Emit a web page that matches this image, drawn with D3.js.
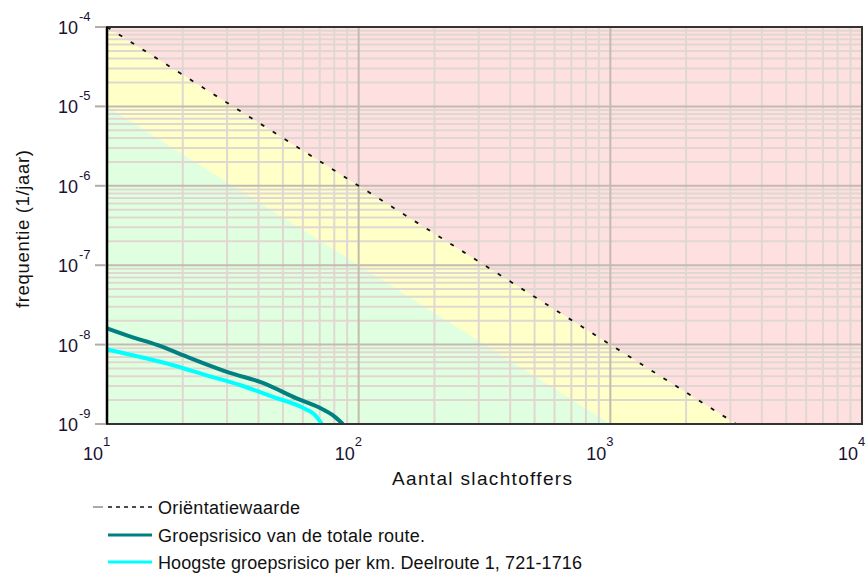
<!DOCTYPE html>
<html>
<head>
<meta charset="utf-8">
<script src="https://cdn.jsdelivr.net/npm/d3@7"></script>
<style>
  body { margin: 0; background: #fff; }
  svg { display: block; font-family: "Liberation Sans", Arial, sans-serif; }
</style>
</head>
<body>
<svg id="chart" width="866" height="574"></svg>
<script>
// Axis decades and their exponent labels
const xDecades = [10, 100, 1000, 10000];
const xExponents = ["1", "2", "3", "4"];
const yDecades = [1e-9, 1e-8, 1e-7, 1e-6, 1e-5, 1e-4];
const yExponents = ["-9", "-8", "-7", "-6", "-5", "-4"];

// Oriëntatiewaarde (upper norm line) and the lower zone boundary
const orientN = [10, 100, 1000, 3162];
const orientF = [1e-4, 1e-6, 1e-8, 1e-9];
const lowerN = [10, 100, 1000];
const lowerF = [1e-5, 1e-7, 1e-9];

// Groepsrisico van de totale route
const totalN = [10, 12.5, 15.8, 21.3, 30.8, 41.6, 56.7, 70, 80, 86.5];
const totalF = [1.6e-8, 1.25e-8, 9.9e-9, 6.8e-9, 4.4e-9, 3.3e-9, 2.1e-9, 1.6e-9, 1.25e-9, 1.0e-9];

// Hoogste groepsrisico per km
const peakN = [10, 13.5, 18.3, 24.9, 33.7, 45.6, 60, 67, 71.3];
const peakF = [8.7e-9, 7.0e-9, 5.5e-9, 4.1e-9, 3.1e-9, 2.2e-9, 1.6e-9, 1.3e-9, 1.0e-9];

const legendLabels = [
  "Oriëntatiewaarde",
  "Groepsrisico van de totale route.",
  "Hoogste groepsrisico per km. Deelroute 1, 721-1716"
];
const legendWidths = [142, 267, 424];
const xTitle = "Aantal slachtoffers";
const yTitle = "frequentie (1/jaar)";

const plot = { left: 107, right: 862, top: 27, bottom: 424 };

const svg = d3.select("#chart");
const x = d3.scaleLog().domain([10, 10000]).range([plot.left, plot.right]);
const y = d3.scaleLog().domain([1e-9, 1e-4]).range([plot.bottom, plot.top]);

const [xMin, xMax] = x.domain();
const [yMin, yMax] = y.domain();

svg.append("defs").append("clipPath").attr("id", "plotClip")
  .append("rect")
  .attr("x", plot.left).attr("y", plot.top)
  .attr("width", plot.right - plot.left).attr("height", plot.bottom - plot.top);

const g = svg.append("g").attr("clip-path", "url(#plotClip)");
const poly = d3.line().x(d => x(d[0])).y(d => y(d[1]));

// Green zone: whole plot area
g.append("rect")
  .attr("x", plot.left).attr("y", plot.top)
  .attr("width", plot.right - plot.left).attr("height", plot.bottom - plot.top)
  .attr("fill", "#e0ffe0");

// Yellow zone: above the lower boundary
const yellowPts = lowerN.map((n, i) => [n, lowerF[i]])
  .concat([[xMax, yMin], [xMax, yMax], [xMin, yMax]]);
g.append("path").attr("d", poly(yellowPts) + "Z").attr("fill", "#ffffc8");

// Red zone: above the oriëntatiewaarde
const redPts = orientN.map((n, i) => [n, orientF[i]])
  .concat([[xMax, yMin], [xMax, yMax]]);
g.append("path").attr("d", poly(redPts) + "Z").attr("fill", "#ffe0e0");

// Grid lines
const isDecade = v => Math.abs(Math.log10(v) - Math.round(Math.log10(v))) < 1e-9;
const xt = x.ticks();
const yt = y.ticks();
const minorCol = "#e0d8d0", majorCol = "#c4bab0";

g.selectAll(".xminor").data(xt.filter(v => !isDecade(v))).join("line")
  .attr("x1", d => x(d)).attr("x2", d => x(d))
  .attr("y1", plot.top).attr("y2", plot.bottom)
  .attr("stroke", minorCol).attr("stroke-width", 2);
g.selectAll(".yminor").data(yt.filter(v => !isDecade(v))).join("line")
  .attr("y1", d => y(d)).attr("y2", d => y(d))
  .attr("x1", plot.left).attr("x2", plot.right)
  .attr("stroke", minorCol).attr("stroke-width", 2);
g.selectAll(".xmajor").data(xt.filter(isDecade)).join("line")
  .attr("x1", d => x(d)).attr("x2", d => x(d))
  .attr("y1", plot.top).attr("y2", plot.bottom)
  .attr("stroke", majorCol).attr("stroke-width", 2);
g.selectAll(".ymajor").data(yt.filter(isDecade)).join("line")
  .attr("y1", d => y(d)).attr("y2", d => y(d))
  .attr("x1", plot.left).attr("x2", plot.right)
  .attr("stroke", majorCol).attr("stroke-width", 2);

// Oriëntatiewaarde dashed line
g.append("path")
  .attr("d", poly(orientN.map((n, i) => [n, orientF[i]])))
  .attr("fill", "none").attr("stroke", "#111").attr("stroke-width", 1.8)
  .attr("stroke-dasharray", "4,10");

// FN curves
const curve = d3.line().x(d => x(d[0])).y(d => y(d[1])).curve(d3.curveMonotoneX);
g.append("path")
  .attr("d", curve(totalN.map((n, i) => [n, totalF[i]])))
  .attr("fill", "none").attr("stroke", "#008080").attr("stroke-width", 4);
g.append("path")
  .attr("d", curve(peakN.map((n, i) => [n, peakF[i]])))
  .attr("fill", "none").attr("stroke", "#00ffff").attr("stroke-width", 4);

// Frame
svg.append("rect")
  .attr("x", plot.left).attr("y", plot.top)
  .attr("width", plot.right - plot.left).attr("height", plot.bottom - plot.top)
  .attr("fill", "none").attr("stroke", "#333").attr("stroke-width", 2);
svg.append("line")
  .attr("x1", plot.left).attr("x2", plot.left)
  .attr("y1", plot.top).attr("y2", plot.bottom)
  .attr("stroke", "#000").attr("stroke-width", 2.5);

// Y axis: outside ticks and power-of-ten labels
const yAxis = svg.append("g");
yDecades.forEach((v, i) => {
  const yy = y(v);
  yAxis.append("line")
    .attr("x1", plot.left - 12).attr("x2", plot.left - 1)
    .attr("y1", yy).attr("y2", yy)
    .attr("stroke", "#b4aca4").attr("stroke-width", 2);
  yAxis.append("text")
    .attr("x", 78).attr("y", yy + 7)
    .attr("text-anchor", "end").attr("font-size", 18).attr("fill", "#1a1030")
    .text("10");
  yAxis.append("text")
    .attr("x", 79).attr("y", yy - 6)
    .attr("font-size", 13).attr("fill", "#1a1030")
    .text(yExponents[i]);
});

// X axis labels
const xAxis = svg.append("g");
xDecades.forEach((v, i) => {
  const xx = x(v);
  xAxis.append("text")
    .attr("x", xx - 4).attr("y", 460)
    .attr("text-anchor", "end").attr("font-size", 18).attr("fill", "#1a1030")
    .text("10");
  xAxis.append("text")
    .attr("x", xx - 4).attr("y", 446)
    .attr("font-size", 13).attr("fill", "#1a1030")
    .text(xExponents[i]);
});

// Axis titles
svg.append("text")
  .attr("x", 392).attr("y", 485)
  .attr("font-size", 19).attr("fill", "#111")
  .attr("textLength", 180).attr("lengthAdjust", "spacing")
  .text(xTitle);
svg.append("text")
  .attr("transform", "translate(29,308) rotate(-90)")
  .attr("font-size", 18.5).attr("fill", "#111")
  .attr("textLength", 158).attr("lengthAdjust", "spacing")
  .text(yTitle);

// Legend
const legendRows = [507, 535, 562];
const lg = svg.append("g");
lg.append("line")
  .attr("x1", 93).attr("x2", 103).attr("y1", legendRows[0]).attr("y2", legendRows[0])
  .attr("stroke", "#aaa").attr("stroke-width", 2);
lg.append("line")
  .attr("x1", 108).attr("x2", 152).attr("y1", legendRows[0]).attr("y2", legendRows[0])
  .attr("stroke", "#111").attr("stroke-width", 1.6).attr("stroke-dasharray", "4,4");
lg.append("line")
  .attr("x1", 108).attr("x2", 152).attr("y1", legendRows[1]).attr("y2", legendRows[1])
  .attr("stroke", "#008080").attr("stroke-width", 3);
lg.append("line")
  .attr("x1", 108).attr("x2", 152).attr("y1", legendRows[2]).attr("y2", legendRows[2])
  .attr("stroke", "#00ffff").attr("stroke-width", 3);
legendLabels.forEach((t, i) => {
  lg.append("text")
    .attr("x", 158).attr("y", legendRows[i] + 7)
    .attr("font-size", 18).attr("fill", "#111")
    .attr("textLength", legendWidths[i]).attr("lengthAdjust", "spacing")
    .text(t);
});
</script>
</body>
</html>
